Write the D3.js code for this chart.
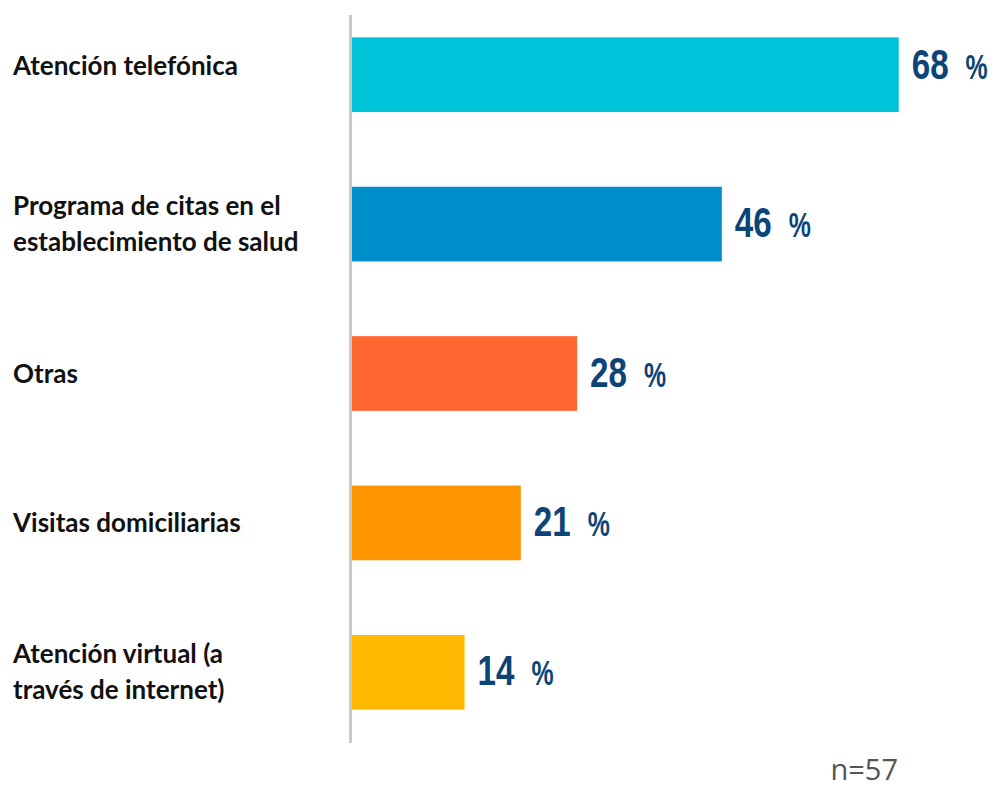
<!DOCTYPE html>
<html>
<head>
<meta charset="utf-8">
<script src="https://cdn.jsdelivr.net/npm/d3@7"></script>
<style>
  html, body { margin: 0; padding: 0; background: #ffffff; }
  svg { display: block; }
</style>
</head>
<body>
<svg id="chart" width="994" height="787"></svg>
<script>
// Canales de atención utilizados (porcentaje de establecimientos)
const categories = [
  ["Atención telefónica"],
  ["Programa de citas en el", "establecimiento de salud"],
  ["Otras"],
  ["Visitas domiciliarias"],
  ["Atención virtual (a", "través de internet)"]
];
const values = [68, 46, 28, 21, 14];
const colors = ["#00c3d9", "#008fcb", "#ff6630", "#ff9500", "#ffb900"];
const sampleNote = "n=57";

const svg = d3.select("#chart");

const x = d3.scaleLinear().domain([0, 100]).range([352, 1156]);
const y = d3.scaleBand()
  .domain(d3.range(values.length))
  .range([0, 747])
  .paddingInner(0.5)
  .paddingOuter(0.25);

// Bars
svg.append("g").selectAll("rect")
  .data(values)
  .join("rect")
  .attr("x", x(0))
  .attr("y", (d, i) => y(i))
  .attr("width", d => x(d) - x(0))
  .attr("height", y.bandwidth())
  .attr("fill", (d, i) => colors[i]);

// Vertical baseline
svg.append("line")
  .attr("x1", 350.5).attr("x2", 350.5)
  .attr("y1", 15).attr("y2", 743)
  .attr("stroke", "#c8c8c8")
  .attr("stroke-width", 3);

// The top row sits slightly higher than its bar
const rowShift = i => (i === 0 ? -9 : 0);

// Category labels
const labelG = svg.append("g")
  .attr("font-family", "Lato, 'Open Sans', sans-serif")
  .attr("font-weight", 700)
  .attr("font-size", 26)
  .attr("fill", "#111111");

categories.forEach((lines, i) => {
  const cy = y(i) + y.bandwidth() / 2 + rowShift(i);
  const lh = 36;
  const t = labelG.append("text").attr("x", 13);
  lines.forEach((ln, k) => {
    t.append("tspan")
      .attr("x", 13)
      .attr("y", cy + (k - (lines.length - 1) / 2) * lh)
      .attr("dy", "0.35em")
      .text(ln);
  });
});

// Value labels, in a condensed bold face
const valG = svg.append("g")
  .attr("font-family", "'Liberation Sans', Arial, sans-serif")
  .attr("font-weight", 700)
  .attr("fill", "#0d4477");

const numScale = 0.79, pctScale = 0.71;
values.forEach((v, i) => {
  const cy = y(i) + y.bandwidth() / 2 + rowShift(i);
  const g = valG.append("g")
    .attr("transform", `translate(${x(v) + 13},${cy + 13})`);
  const num = g.append("text")
    .attr("transform", `scale(${numScale},1)`)
    .attr("font-size", 42)
    .text(v);
  const w = num.node().getComputedTextLength() * numScale;
  g.append("text")
    .attr("transform", `translate(${w + 17},0) scale(${pctScale},1)`)
    .attr("font-size", 35)
    .text("%");
});

// Sample size note
svg.append("text")
  .attr("x", 898)
  .attr("y", 780)
  .attr("text-anchor", "end")
  .attr("font-family", "'Open Sans', sans-serif")
  .attr("font-size", 29)
  .attr("fill", "#555555")
  .text(sampleNote);
</script>
</body>
</html>
